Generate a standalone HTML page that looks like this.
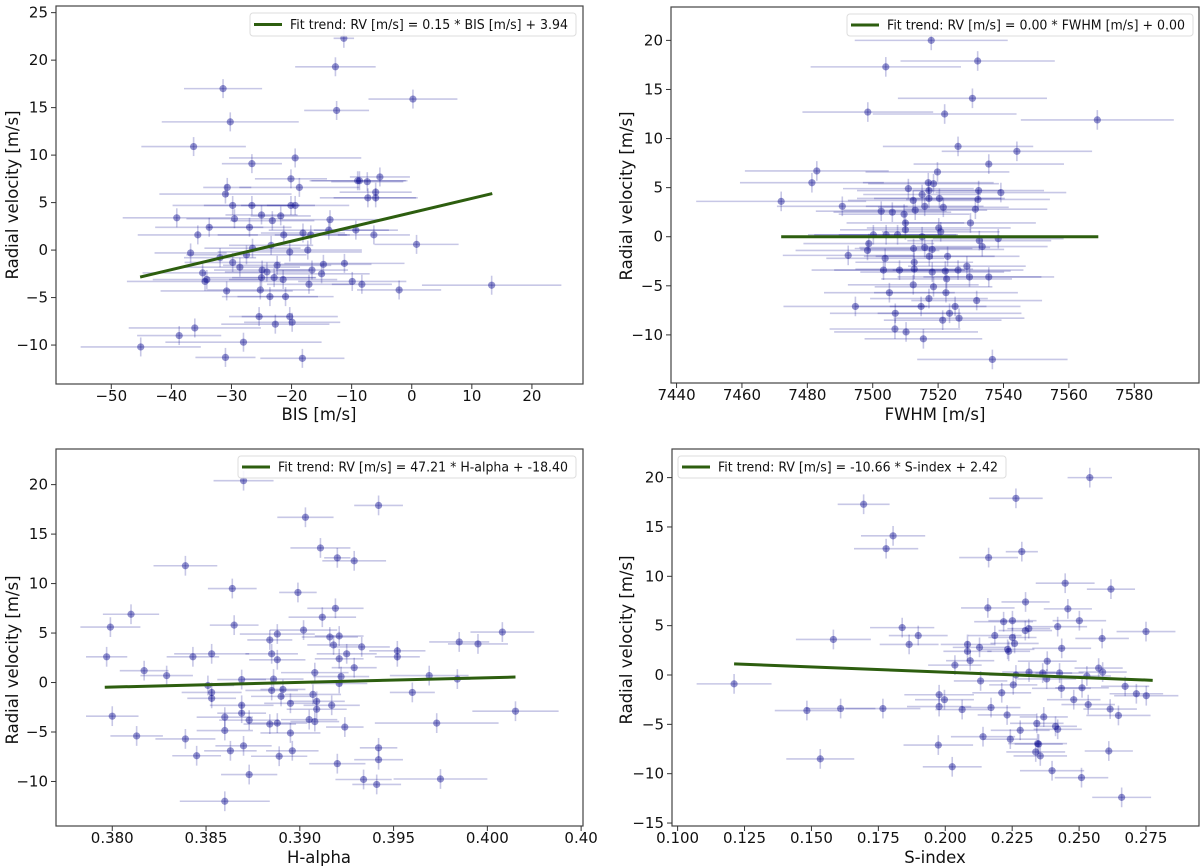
<!DOCTYPE html>
<html><head><meta charset="utf-8">
<style>
html,body{margin:0;padding:0;background:#fff;}
svg{display:block;font-family:"DejaVu Sans","Liberation Sans",sans-serif;}
</style></head>
<body>
<svg id="fig" width="1200" height="866" viewBox="0 0 1200 866" xmlns="http://www.w3.org/2000/svg"></svg>
<script>
// ---- Panel 1: BIS ----
const bisX=[-11.3,-12.7,-31.4,0.2,-12.5,-30.2,-36.3,-26.6,-19.4,-20.1,-9.0,-8.7,-7.4,-5.3,-30.7,-31.0,-18.7,-6.0,-7.3,-6.0,-29.8,-26.6,-20.1,-19.4,-39.1,-29.5,-25.0,-23.2,-21.8,-13.6,-33.7,-27.0,-13.8,-9.3,-35.6,-21.3,-18.1,-16.8,-6.3,0.8,-36.8,-26.5,-23.4,-17.3,-20.3,-31.9,-27.5,-29.8,-28.6,-22.4,-14.7,-11.2,-34.8,-24.9,-24.1,-16.6,-15.0,-34.4,-34.1,-25.0,-22.9,-21.4,-9.9,-17.1,-8.3,-30.8,-25.2,-2.1,13.3,-23.6,-21.0,-25.4,-20.3,-19.9,-22.7,-36.1,-38.7,-28.0,-45.1,-31.0,-18.2];
const bisRV=[22.3,19.3,17.0,15.9,14.7,13.5,10.9,9.1,9.7,7.5,7.3,7.3,7.2,7.7,6.6,5.9,6.6,6.1,5.5,5.5,4.7,4.7,4.7,4.7,3.4,3.3,3.7,3.1,3.6,3.2,2.4,2.4,2.1,2.1,1.6,1.6,1.8,1.6,1.6,0.6,-0.3,0.2,0.5,0.0,-0.2,-0.8,-0.5,-1.3,-1.8,-1.6,-1.5,-1.4,-2.4,-2.1,-2.3,-2.1,-2.5,-3.3,-3.1,-2.9,-2.9,-3.1,-3.3,-3.6,-3.6,-4.3,-4.2,-4.2,-3.7,-4.9,-4.9,-7.0,-7.0,-7.6,-7.8,-8.2,-9.0,-9.7,-10.2,-11.3,-11.4];
const bisErr=[1.7,6.7,6.5,7.4,5.4,11.4,8.7,5,11,6,8,8,6,5,4,11,10,6,8,7,10,8,4,9,9,8,6,7,5,8,9,7,10,7,10,11,7,6,6,7,6,8,7,9,12,6,10,8,10,9,8,10,10,8,7,6,8,13,9,9,7,9,9,7,5,11,9,7,11.6,8,8,5,8,8,9,11,7,13,10,5,7];
const bisFitX=[-45.2,13.4];
const bisSlope=0.15, bisIntercept=3.94;
const bisXTicks=[-50,-40,-30,-20,-10,0,10,20];
const bisXLabels=["−50","−40","−30","−20","−10","0","10","20"];
const bisYTicks=[-10,-5,0,5,10,15,20,25];
const bisYLabels=["−10","−5","0","5","10","15","20","25"];

// ---- Panel 2: FWHM ----
const fwhmX=[7517.9,7504.0,7532.1,7530.5,7498.5,7522.0,7568.7,7526.1,7544.1,7535.5,7482.9,7481.4,7519.8,7472.0,7517.0,7518.6,7510.9,7517.2,7532.4,7539.2,7515.1,7512.4,7517.2,7520.4,7532.2,7490.7,7515.9,7521.6,7531.4,7502.6,7506.0,7509.6,7513.0,7510.0,7529.9,7520.2,7510.0,7520.8,7500.2,7504.1,7507.6,7515.1,7538.4,7532.6,7498.8,7512.5,7515.9,7518.2,7533.5,7498.4,7492.5,7503.8,7517.3,7522.9,7512.7,7503.3,7508.2,7512.7,7518.2,7522.2,7526.1,7528.8,7522.6,7529.6,7535.5,7512.4,7518.6,7505.1,7522.4,7517.2,7494.7,7514.8,7525.2,7531.8,7506.9,7523.5,7521.4,7526.4,7506.8,7510.2,7515.5,7536.6];
const fwhmRV=[20.0,17.3,17.9,14.1,12.7,12.5,11.9,9.2,8.7,7.4,6.7,5.5,6.6,3.6,5.5,5.4,4.9,4.7,4.7,4.5,4.3,3.7,3.9,3.9,3.8,3.1,3.1,3.0,2.8,2.6,2.5,2.3,2.7,1.4,1.4,0.9,0.7,0.5,0.2,0.2,0.2,0.0,-0.2,-0.4,-0.7,-1.2,-1.1,-1.3,-1.0,-1.4,-1.9,-2.2,-2.0,-2.0,-2.6,-3.4,-3.4,-3.3,-3.6,-3.5,-3.4,-3.0,-4.3,-4.1,-4.1,-4.9,-5.1,-5.7,-5.7,-6.3,-7.1,-7.1,-7.1,-6.5,-7.8,-7.8,-8.5,-8.3,-9.4,-9.7,-10.4,-12.5];
const fwhmErr=[23.4,23,23.6,22.8,20,22,23.4,23,23,23,22,22,22,26,20,20,20,22,20,20,18,20,22,20,22,20,18,20,22,20,18,20,22,18,20,22,20,18,20,22,18,20,20,22,20,18,20,22,20,22,20,18,20,22,18,22,20,18,22,20,20,18,20,22,20,20,18,20,22,18,22,20,20,20,20,22,18,20,20,22,18,23];
const fwhmFitX=[7472,7569];
const fwhmSlope=0.00, fwhmIntercept=0.00;
const fwhmXTicks=[7440,7460,7480,7500,7520,7540,7560,7580];
const fwhmXLabels=["7440","7460","7480","7500","7520","7540","7560","7580"];
const fwhmYTicks=[-10,-5,0,5,10,15,20];
const fwhmYLabels=["−10","−5","0","5","10","15","20"];

// ---- Panel 3: H-alpha ----
const haX=[0.3870,0.3942,0.3903,0.3911,0.3920,0.3929,0.3839,0.3864,0.3899,0.3810,0.3919,0.3912,0.3799,0.3865,0.3902,0.3888,0.3921,0.3916,0.3884,0.3918,0.3933,0.4008,0.3985,0.3995,0.3952,0.3952,0.3797,0.3843,0.3853,0.3885,0.3888,0.3925,0.3921,0.3929,0.3817,0.3908,0.3829,0.3969,0.3922,0.3869,0.3886,0.3984,0.3921,0.3851,0.3885,0.3891,0.3853,0.3853,0.3960,0.3907,0.3890,0.3909,0.3869,0.3895,0.3917,0.3909,0.4015,0.3800,0.3860,0.3869,0.3873,0.3905,0.3908,0.3884,0.3888,0.3973,0.3924,0.3860,0.3895,0.3813,0.3839,0.3870,0.3942,0.3863,0.3896,0.3845,0.3889,0.3942,0.3920,0.3873,0.3934,0.3975,0.3941,0.3860];
const haRV=[20.4,17.9,16.7,13.6,12.6,12.3,11.8,9.5,9.1,6.9,7.5,6.6,5.6,5.8,5.3,4.9,4.7,4.6,4.3,3.8,3.6,5.1,4.1,3.9,3.2,2.6,2.6,2.6,2.9,2.9,2.3,2.9,2.4,1.5,1.2,1.0,0.7,0.7,0.6,0.3,0.35,0.35,-0.1,-0.3,-0.8,-0.7,-1.0,-1.6,-1.0,-1.2,-1.4,-1.9,-2.3,-2.1,-2.3,-2.7,-2.9,-3.4,-3.5,-3.1,-3.8,-3.75,-3.95,-4.2,-4.1,-4.1,-4.5,-4.85,-5.1,-5.4,-5.7,-6.4,-6.6,-6.9,-6.9,-7.4,-7.45,-7.8,-8.2,-9.3,-9.8,-9.75,-10.3,-12.0];
const haErr=[0.0016,0.0013,0.0015,0.0016,0.0007,0.0017,0.0017,0.0013,0.001,0.0015,0.0015,0.0018,0.0016,0.0013,0.0018,0.002,0.0013,0.0015,0.0012,0.0014,0.0015,0.0017,0.0016,0.0016,0.0015,0.0012,0.0011,0.0014,0.002,0.0014,0.0015,0.0016,0.0013,0.0012,0.0013,0.0018,0.0014,0.0021,0.0015,0.0013,0.0016,0.0007,0.0015,0.0014,0.0014,0.0012,0.0016,0.0013,0.0012,0.0015,0.0016,0.0015,0.0017,0.0014,0.0015,0.0016,0.0023,0.0014,0.0015,0.0013,0.0016,0.0015,0.0013,0.0014,0.0016,0.0033,0.001,0.0015,0.0016,0.0014,0.0016,0.0015,0.001,0.0014,0.0014,0.0013,0.0015,0.0013,0.0015,0.0015,0.0015,0.0025,0.0013,0.0024];
const haFitX=[0.3796,0.4015];
const haSlope=47.21, haIntercept=-18.40;
const haXTicks=[0.380,0.385,0.390,0.395,0.400,0.405];
const haXLabels=["0.380","0.385","0.390","0.395","0.400","0.40"];
const haYTicks=[-10,-5,0,5,10,15,20];
const haYLabels=["−10","−5","0","5","10","15","20"];

// ---- Panel 4: S-index ----
const sX=[0.2540,0.1695,0.2264,0.1805,0.1779,0.2286,0.2162,0.2448,0.2619,0.2300,0.2159,0.2458,0.2501,0.2218,0.2251,0.2299,0.2312,0.2420,0.1839,0.1899,0.2750,0.1582,0.2185,0.2251,0.2586,0.1865,0.2083,0.2259,0.2128,0.2435,0.2083,0.2233,0.2237,0.2093,0.2036,0.2381,0.2573,0.2588,0.2313,0.2364,0.2427,0.2264,0.2529,0.1211,0.2132,0.2379,0.2254,0.2434,0.2511,0.2672,0.2211,0.1977,0.2714,0.2751,0.1997,0.2480,0.1977,0.2534,0.2171,0.2063,0.1483,0.1609,0.1767,0.2616,0.2231,0.2647,0.2368,0.2342,0.2412,0.2420,0.2280,0.2141,0.2243,0.1974,0.2345,0.2349,0.2611,0.2338,0.2355,0.1533,0.2026,0.2399,0.2509,0.2659];
const sRV=[20.0,17.3,17.9,14.1,12.8,12.5,11.9,9.3,8.7,7.4,6.8,6.7,5.5,5.4,5.5,4.5,4.7,4.9,4.8,4.0,4.4,3.6,4.0,3.8,3.7,3.1,3.1,3.2,2.8,2.7,2.4,2.6,2.4,1.45,1.0,1.4,0.7,0.3,0.3,0.2,0.2,0.0,-0.1,-0.9,-0.6,-0.4,-1.0,-1.35,-1.3,-1.15,-1.8,-2.0,-1.9,-2.1,-2.5,-2.5,-3.2,-3.0,-3.3,-3.5,-3.6,-3.4,-3.4,-3.45,-4.05,-4.1,-4.25,-4.9,-5.2,-5.5,-5.6,-6.25,-6.5,-7.1,-6.95,-7.0,-7.7,-7.8,-8.2,-8.5,-9.3,-9.7,-10.4,-12.4];
const sErr=[0.0083,0.0097,0.010,0.012,0.012,0.006,0.011,0.011,0.009,0.009,0.010,0.009,0.010,0.011,0.009,0.010,0.008,0.011,0.012,0.011,0.011,0.014,0.010,0.009,0.010,0.011,0.010,0.009,0.010,0.011,0.009,0.010,0.008,0.009,0.010,0.011,0.009,0.009,0.010,0.011,0.009,0.010,0.009,0.014,0.010,0.011,0.009,0.011,0.010,0.009,0.011,0.013,0.010,0.012,0.011,0.010,0.012,0.010,0.011,0.010,0.012,0.013,0.014,0.010,0.011,0.012,0.009,0.010,0.008,0.009,0.011,0.012,0.010,0.013,0.011,0.009,0.009,0.011,0.010,0.0127,0.011,0.012,0.010,0.011];
const sFitX=[0.1211,0.2775];
const sSlope=-10.66, sIntercept=2.42;
const sXTicks=[0.100,0.125,0.150,0.175,0.200,0.225,0.250,0.275];
const sXLabels=["0.100","0.125","0.150","0.175","0.200","0.225","0.250","0.275"];
const sYTicks=[-15,-10,-5,0,5,10,15,20];
const sYLabels=["−15","−10","−5","0","5","10","15","20"];

const RV_ERR=1.0;

const NS="http://www.w3.org/2000/svg";
const svg=document.getElementById('fig');
function mk(tag,attrs,parent){const e=document.createElementNS(NS,tag);for(const k in attrs)e.setAttribute(k,attrs[k]);(parent||svg).appendChild(e);return e;}

function drawPanel(cfg){
  const g=mk('g',{});
  
  
  const [L,T,R,B]=cfg.frame;
  const sx=v=>L+(v-cfg.xlim[0])/(cfg.xlim[1]-cfg.xlim[0])*(R-L);
  const sy=v=>B-(v-cfg.ylim[0])/(cfg.ylim[1]-cfg.ylim[0])*(B-T);
  const eg=mk('g',{stroke:'#00008b','stroke-opacity':0.22,'stroke-width':1.6},g);
  
  
  const pg=mk('g',{fill:'#00008b','fill-opacity':0.42},g);
  
  
  for(let i=0;i<cfg.xs.length;i++){
    const x=cfg.xs[i],y=cfg.ys[i],e=cfg.xerr[i];
    const h=mk('line',{x1:sx(x-e),x2:sx(x+e),y1:sy(y),y2:sy(y)},eg);
    
    
    const v=mk('line',{x1:sx(x),x2:sx(x),y1:sy(y-RV_ERR),y2:sy(y+RV_ERR)},eg);
    
    
    const c=mk('circle',{cx:sx(x),cy:sy(y),r:3.6},pg);
    
    
  }
  const fx=cfg.fitX;
  const fl=mk('line',{x1:sx(fx[0]),y1:sy(cfg.slope*fx[0]+cfg.intercept),x2:sx(fx[1]),y2:sy(cfg.slope*fx[1]+cfg.intercept),stroke:'#2d5e0f','stroke-width':3},g);
  
  
  const fr=mk('rect',{x:L,y:T,width:R-L,height:B-T,fill:'none',stroke:'#444','stroke-width':1.2},g);
  
  
  cfg.xt.forEach((t,i)=>{
    const x=sx(t);
    const tk=mk('line',{x1:x,x2:x,y1:B,y2:B+5,stroke:'#333','stroke-width':1},g);
    
    
    const tx=mk('text',{x:x,y:B+17,'text-anchor':'middle','font-size':15,fill:'#111'},g);
    tx.textContent=cfg.xl[i];
    
    
  });
  cfg.yt.forEach((t,i)=>{
    const y=sy(t);
    const tk=mk('line',{x1:L-5,x2:L,y1:y,y2:y,stroke:'#333','stroke-width':1},g);
    
    
    const tx=mk('text',{x:L-8,y:y+5,'text-anchor':'end','font-size':15,fill:'#111'},g);
    tx.textContent=cfg.yl[i];
    
    
  });
  const xt=mk('text',{x:cfg.xTitlePos[0],y:cfg.xTitlePos[1],'text-anchor':'middle','font-size':16.5,fill:'#111'},g);
  xt.textContent=cfg.xTitle;
  
  
  const yt=mk('text',{x:0,y:0,'text-anchor':'middle','font-size':16.5,fill:'#111',transform:`translate(${cfg.yTitlePos[0]},${cfg.yTitlePos[1]}) rotate(-90)`},g);
  yt.textContent='Radial velocity [m/s]';
  
  
  const [lx,ly,lw,lh]=cfg.legend;
  const lg=mk('g',{},g);
  
  
  mk('rect',{x:lx,y:ly,width:lw,height:lh,rx:3,fill:'#fff','fill-opacity':0.85,stroke:'#ddd'},lg);
  mk('line',{x1:lx+4,x2:lx+32,y1:ly+lh/2,y2:ly+lh/2,stroke:'#2d5e0f','stroke-width':3},lg);
  const lt=mk('text',{x:lx+40,y:ly+lh/2+4.5,'font-size':13,fill:'#111',textLength:lw-48,lengthAdjust:'spacingAndGlyphs'},lg);
  lt.textContent=cfg.legendText;
  
  
}

drawPanel({name:'bis',frame:[56,6,583,384],xlim:[-59.2,28.5],ylim:[-14.1,25.7],xs:bisX,ys:bisRV,xerr:bisErr,fitX:bisFitX,slope:bisSlope,intercept:bisIntercept,
  xt:bisXTicks,xl:bisXLabels,yt:bisYTicks,yl:bisYLabels,xTitle:'BIS [m/s]',xTitlePos:[319,420],yTitlePos:[18,195],
  legend:[250,13,326,23],legendText:'Fit trend: RV [m/s] = 0.15 * BIS [m/s] + 3.94'});
drawPanel({name:'fwhm',frame:[671,7,1199,383],xlim:[7438.3,7599.8],ylim:[-14.9,23.4],xs:fwhmX,ys:fwhmRV,xerr:fwhmErr,fitX:fwhmFitX,slope:fwhmSlope,intercept:fwhmIntercept,
  xt:fwhmXTicks,xl:fwhmXLabels,yt:fwhmYTicks,yl:fwhmYLabels,xTitle:'FWHM [m/s]',xTitlePos:[935,420],yTitlePos:[632,196],
  legend:[847,14,346,22],legendText:'Fit trend: RV [m/s] = 0.00 * FWHM [m/s] + 0.00'});
drawPanel({name:'halpha',frame:[56,449,583,826],xlim:[0.3770,0.4051],ylim:[-14.5,23.6],xs:haX,ys:haRV,xerr:haErr,fitX:haFitX,slope:haSlope,intercept:haIntercept,
  xt:haXTicks,xl:haXLabels,yt:haYTicks,yl:haYLabels,xTitle:'H-alpha',xTitlePos:[319,863],yTitlePos:[18,660],
  legend:[238,456,338,22],legendText:'Fit trend: RV [m/s] = 47.21 * H-alpha + -18.40'});
drawPanel({name:'sindex',frame:[672,449,1199,826],xlim:[0.0979,0.2948],ylim:[-15.3,22.9],xs:sX,ys:sRV,xerr:sErr,fitX:sFitX,slope:sSlope,intercept:sIntercept,
  xt:sXTicks,xl:sXLabels,yt:sYTicks,yl:sYLabels,xTitle:'S-index',xTitlePos:[935,863],yTitlePos:[632,640],
  legend:[678,456,328,22],legendText:'Fit trend: RV [m/s] = -10.66 * S-index + 2.42'});
</script>
</body></html>
